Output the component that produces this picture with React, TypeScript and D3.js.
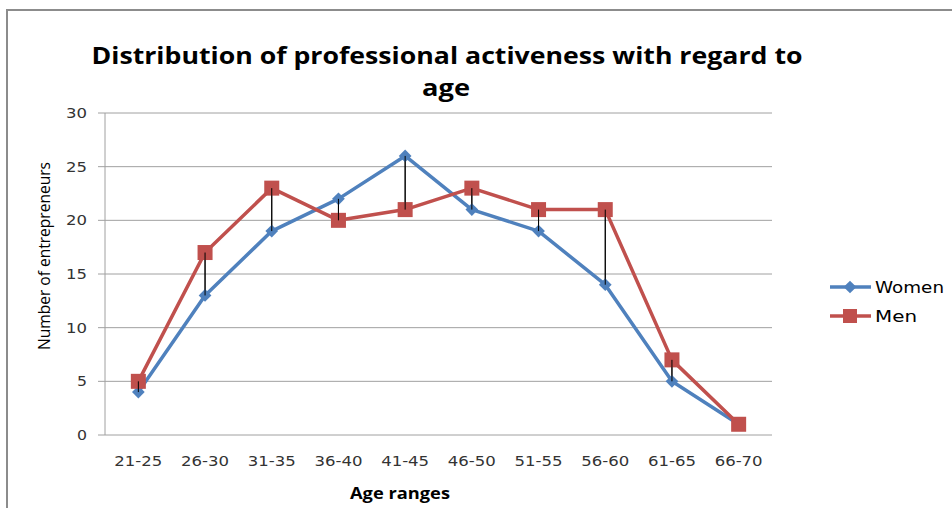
import {scaleBand, scaleLinear, line} from "d3";

const ageRanges = ["21-25", "26-30", "31-35", "36-40", "41-45", "46-50", "51-55", "56-60", "61-65", "66-70"];
const women = [4, 13, 19, 22, 26, 21, 19, 14, 5, 1];
const men = [5, 17, 23, 20, 21, 23, 21, 21, 7, 1];
const yTicks = [0, 5, 10, 15, 20, 25, 30];

const W = 952;
const H = 508;
const plot = {left: 105, right: 772, top: 113, bottom: 435};
const blue = "#4F81BD";
const red = "#C0504D";
const font = "'DejaVu Sans', Verdana, sans-serif";
const titleFont = "'Open Sans', 'Liberation Sans', sans-serif";

export default function App() {
    const x = scaleBand<string>()
        .domain(ageRanges)
        .range([plot.left, plot.right]);
    const y = scaleLinear()
        .domain([0, 30])
        .range([plot.bottom, plot.top]);
    const cx = (d: string) => (x(d) ?? 0) + x.bandwidth() / 2;

    const path = (values: number[]) =>
        line<number>()
            .x((_, i) => cx(ageRanges[i]))
            .y(v => y(v))(values) ?? "";

    return <svg width={W} height={H} style={{position: "absolute", left: 0, top: 0, background: "#fff"}}>
        {/* chart frame, cut by the window on right and bottom */}
        <rect x={7} y={10} width={W + 20} height={H + 20} fill="#fff" stroke="#8c8c8c" strokeWidth={2}/>

        <text x={447} y={64} textAnchor="middle" fontFamily={titleFont} fontWeight="bold" fontSize={23}
              textLength={711} lengthAdjust="spacingAndGlyphs"
              fill="#000">Distribution of professional activeness with regard to</text>
        <text x={446} y={96} textAnchor="middle" fontFamily={titleFont} fontWeight="bold" fontSize={23}
              textLength={48} lengthAdjust="spacingAndGlyphs" fill="#000">age</text>

        {/* gridlines */}
        {yTicks.map(t => (
            <g key={t}>
                <line x1={plot.left - 7} x2={plot.right} y1={y(t)} y2={y(t)} stroke="#a0a0a0" strokeWidth={1}/>
                <text x={87} y={y(t) + 5} textAnchor="end" fontFamily={font} fontSize={14}
                      textLength={t < 10 ? 10 : 21} lengthAdjust="spacingAndGlyphs" fill="#333">{t}</text>
            </g>
        ))}
        <line x1={plot.left} x2={plot.left} y1={plot.top} y2={plot.bottom} stroke="#a0a0a0" strokeWidth={1}/>

        {ageRanges.map(a => (
            <text key={a} x={cx(a)} y={466} textAnchor="middle" fontFamily={font} fontSize={14}
                  textLength={48} lengthAdjust="spacingAndGlyphs" fill="#333">{a}</text>
        ))}

        <text x={400} y={499} textAnchor="middle" fontFamily={titleFont} fontWeight="bold" fontSize={16}
              textLength={100} lengthAdjust="spacingAndGlyphs" fill="#000">Age ranges</text>
        <text transform="translate(50, 256) rotate(-90)" textAnchor="middle"
              fontFamily={titleFont} fontSize={16} textLength={188} lengthAdjust="spacingAndGlyphs"
              fill="#000">Number of entrepreneurs</text>

        {/* high-low lines */}
        {ageRanges.map((a, i) => (
            <line key={a} x1={cx(a)} x2={cx(a)} y1={y(Math.max(women[i], men[i]))}
                  y2={y(Math.min(women[i], men[i]))} stroke="#000" strokeWidth={1}/>
        ))}

        <path d={path(women)} fill="none" stroke={blue} strokeWidth={3.5} strokeLinejoin="round"/>
        {women.map((v, i) => (
            <rect key={i} x={-4.5} y={-4.5} width={9} height={9} fill={blue}
                  transform={`translate(${cx(ageRanges[i])}, ${y(v)}) rotate(45)`}/>
        ))}
        <path d={path(men)} fill="none" stroke={red} strokeWidth={3.5} strokeLinejoin="round"/>
        {men.map((v, i) => (
            <rect key={i} x={cx(ageRanges[i]) - 7.5} y={y(v) - 7.5} width={15} height={15} fill={red}/>
        ))}
        {/* high-low lines drawn on top of markers as in the reference */}
        {ageRanges.map((a, i) => (
            <line key={a} x1={cx(a)} x2={cx(a)} y1={y(Math.max(women[i], men[i]))}
                  y2={y(Math.min(women[i], men[i]))} stroke="#000" strokeWidth={1}/>
        ))}

        {/* legend */}
        <line x1={830} x2={871} y1={287} y2={287} stroke={blue} strokeWidth={3.5}/>
        <rect x={-4.5} y={-4.5} width={9} height={9} fill={blue} transform="translate(850, 287) rotate(45)"/>
        <text x={875} y={293} fontFamily={font} fontSize={15} textLength={69} lengthAdjust="spacingAndGlyphs"
              fill="#000">Women</text>
        <line x1={830} x2={871} y1={316} y2={316} stroke={red} strokeWidth={3.5}/>
        <rect x={843} y={309} width={14} height={14} fill={red}/>
        <text x={875} y={322} fontFamily={font} fontSize={15} textLength={42} lengthAdjust="spacingAndGlyphs"
              fill="#000">Men</text>
    </svg>;
}
